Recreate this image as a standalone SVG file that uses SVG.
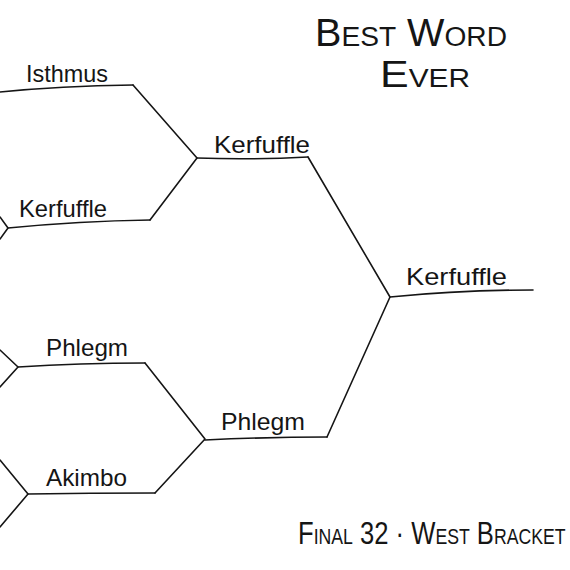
<svg xmlns="http://www.w3.org/2000/svg" width="570" height="570" viewBox="0 0 570 570">
<style>
.ln{fill:none;stroke:#151515;stroke-width:1.6;stroke-linecap:round;stroke-linejoin:round}
.lb{font-family:"Liberation Sans","DejaVu Sans",sans-serif;font-size:24px;fill:#151515}
.tt{font-family:"Liberation Sans","DejaVu Sans",sans-serif;fill:#151515;font-variant:small-caps}
</style>
<rect width="570" height="570" fill="#ffffff"/>
<g id="title">
<text class="tt" x="315" y="46" font-size="38" textLength="192" lengthAdjust="spacingAndGlyphs">Best Word</text>
<text class="tt" x="380" y="87" font-size="36" textLength="90" lengthAdjust="spacingAndGlyphs">Ever</text>
</g>
<g id="subtitle">
<text class="tt" transform="translate(298,544) scale(0.8,1)" x="0" y="0" font-size="32">Final 32 · West Bracket</text>
</g>
<g id="connectors">
<path class="ln" d="M133,85 L197,158 L150,220"/>
<path class="ln" d="M145,363 L205,439 L155,493"/>
<path class="ln" d="M308,157 L390,297 L327,437"/>
<path class="ln" d="M0,217 L8,228 L0,239"/>
<path class="ln" d="M0,350 L18,367 L0,387"/>
<path class="ln" d="M0,460 L28,494 L0,527"/>
</g>
<g id="node-isthmus">
<path class="ln" d="M0,92 Q60,86 133,85"/>
<text class="lb" x="26" y="82" textLength="82" lengthAdjust="spacingAndGlyphs">Isthmus</text>
</g>
<g id="node-kerfuffle-r1">
<path class="ln" d="M8,228 Q80,221 150,220"/>
<text class="lb" x="19" y="217" textLength="88" lengthAdjust="spacingAndGlyphs">Kerfuffle</text>
</g>
<g id="node-phlegm-r1">
<path class="ln" d="M18,367 Q80,363 145,363"/>
<text class="lb" x="46" y="356" textLength="82" lengthAdjust="spacingAndGlyphs">Phlegm</text>
</g>
<g id="node-akimbo">
<path class="ln" d="M28,494 Q90,493 155,493"/>
<text class="lb" x="46" y="486" textLength="81" lengthAdjust="spacingAndGlyphs">Akimbo</text>
</g>
<g id="node-kerfuffle-r2">
<path class="ln" d="M197,158 Q250,160 308,157"/>
<text class="lb" x="214" y="153" textLength="96" lengthAdjust="spacingAndGlyphs">Kerfuffle</text>
</g>
<g id="node-phlegm-r2">
<path class="ln" d="M205,440 Q270,437 327,437"/>
<text class="lb" x="221" y="430" textLength="84" lengthAdjust="spacingAndGlyphs">Phlegm</text>
</g>
<g id="node-kerfuffle-final">
<path class="ln" d="M390,297 Q460,290 533,290"/>
<text class="lb" x="406" y="285" textLength="101" lengthAdjust="spacingAndGlyphs">Kerfuffle</text>
</g>
</svg>
